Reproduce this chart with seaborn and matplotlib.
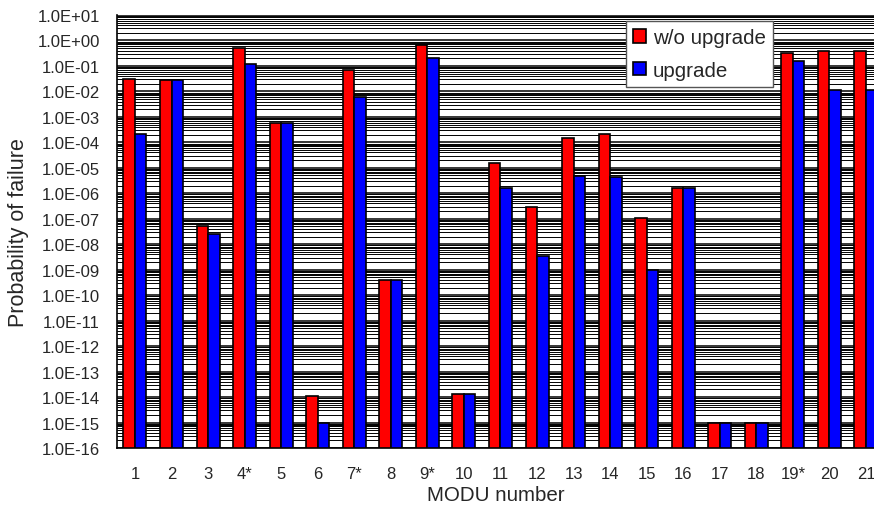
import numpy as np
import pandas as pd
import matplotlib
matplotlib.use("Agg")
import matplotlib.pyplot as plt
from matplotlib.ticker import LogLocator, FuncFormatter, FixedLocator, NullFormatter
import seaborn as sns

# MODU identifiers (asterisk marks special units)
modu = ["1", "2", "3", "4*", "5", "6", "7*", "8", "9*", "10", "11",
        "12", "13", "14", "15", "16", "17", "18", "19*", "20", "21"]

# Probability of failure without upgrade
p_without = [3.1e-2, 2.7e-2, 5.0e-8, 5.0e-1, 5.7e-4, 1.1e-14, 6.8e-2,
             4.0e-10, 6.8e-1, 1.35e-14, 1.5e-5, 3.0e-7, 1.5e-4, 2.2e-4,
             1.1e-7, 1.6e-6, 1.0e-15, 1.0e-15, 3.2e-1, 3.7e-1, 3.7e-1]

# Probability of failure with upgrade
p_upgrade = [2.1e-4, 2.7e-2, 2.5e-8, 1.2e-1, 5.7e-4, 1.0e-15, 6.0e-3,
             4.0e-10, 2.0e-1, 1.35e-14, 1.6e-6, 3.5e-9, 4.9e-6, 4.3e-6,
             1.0e-9, 1.6e-6, 1.0e-15, 1.0e-15, 1.5e-1, 1.1e-2, 1.1e-2]

series_names = ["w/o upgrade", "upgrade"]

df = pd.DataFrame({
    "MODU": modu * 2,
    "p": p_without + p_upgrade,
    "case": [series_names[0]] * len(modu) + [series_names[1]] * len(modu),
})

sns.set_style("white")
plt.rcParams["font.family"] = ["Liberation Sans", "DejaVu Sans"]

fig = plt.figure(figsize=(8.74, 5.10), dpi=100)
ax = fig.add_axes([116.7 / 874, 1 - 449 / 510, 1 - 116.7 / 874, (449 - 16) / 510])
ax.set_yscale("log")

sns.barplot(data=df, x="MODU", y="p", hue="case", order=modu,
            hue_order=series_names, palette=["#ff0000", "#0000ff"],
            width=0.63, gap=0, edgecolor="black", linewidth=1.2,
            saturation=1, ax=ax, legend=True)

ax.set_ylim(1e-16, 10)
ax.set_xlim(-0.5, 20.22)

# log axis: a labelled tick per decade, gridlines on every minor step too
ax.yaxis.set_major_locator(LogLocator(base=10, numticks=40))
ax.yaxis.set_minor_locator(LogLocator(base=10, subs=np.arange(2, 10), numticks=40))
ax.yaxis.set_major_formatter(FuncFormatter(lambda v, pos: f"{v:.1E}"))
ax.yaxis.set_minor_formatter(NullFormatter())
ax.tick_params(axis="y", which="major", direction="out", length=5, width=1,
               color="black", labelsize=12, pad=7)
ax.tick_params(axis="y", which="minor", length=0)
ax.grid(True, axis="y", which="major", color="black", linewidth=1.1)
ax.grid(True, axis="y", which="minor", color="black", linewidth=0.7)
ax.grid(False, axis="x")
ax.set_axisbelow(True)

# category separators on the x axis
ax.xaxis.set_minor_locator(FixedLocator(np.arange(-0.5, 21, 1.0)))
ax.tick_params(axis="x", which="major", length=0, labelsize=12, pad=13)
ax.tick_params(axis="x", which="minor", direction="inout", length=9,
               width=1, color="black")

for s in ["top", "right"]:
    ax.spines[s].set_visible(False)
for s in ["left", "bottom"]:
    ax.spines[s].set_color("black")
    ax.spines[s].set_linewidth(1.2)

ax.set_xlabel("MODU number", fontsize=14.8, labelpad=3)
ax.set_ylabel("Probability of failure", fontsize=15.5, labelpad=6)

handles, labels = ax.get_legend_handles_labels()
ax.legend(handles, labels, loc="upper left", bbox_to_anchor=(0.6725, 0.986),
          fontsize=14.8, frameon=True, fancybox=False, framealpha=1,
          edgecolor="#555555", handlelength=0.6, handleheight=0.6,
          handletextpad=0.35, labelspacing=0.65, borderpad=0.35,
          borderaxespad=0)
ax.get_legend().get_frame().set_linewidth(1.0)

fig.savefig("out.png", dpi=100)
